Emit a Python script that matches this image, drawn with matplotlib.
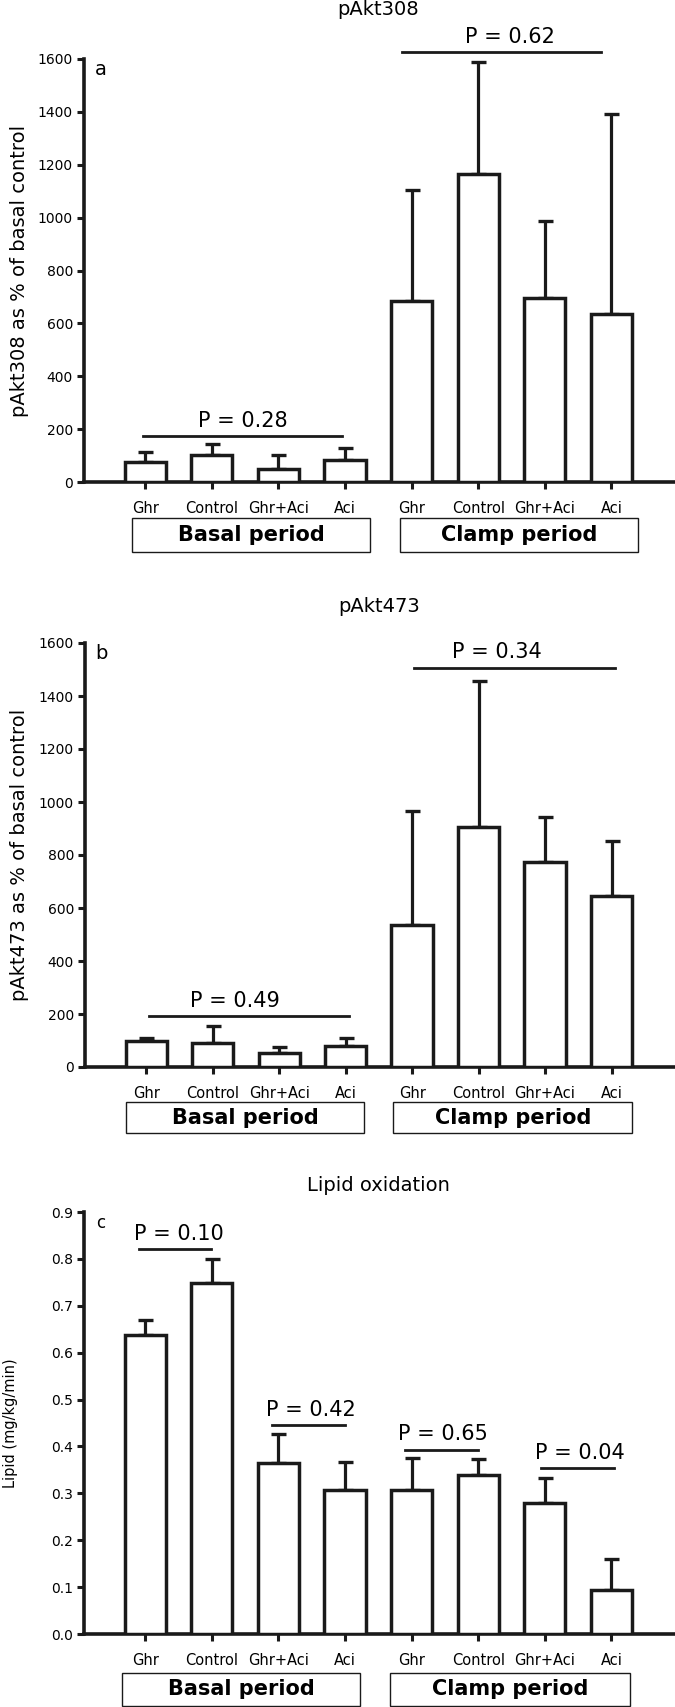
import matplotlib
matplotlib.use("Agg")
import matplotlib.pyplot as plt
from matplotlib.patches import Rectangle
import matplotlib.transforms as mtransforms

plt.rcParams['font.family'] = ['DejaVu Sans']

categories = ["Ghr", "Control", "Ghr+Aci", "Aci", "Ghr", "Control", "Ghr+Aci", "Aci"]
periods = ["Basal period", "Clamp period"]

# panel a: pAkt308 (% of basal control)
a_mean = [77, 101, 50, 85, 686, 1165, 697, 636]
a_sem = [38, 41, 54, 44, 417, 424, 291, 755]
a_p_labels = ["P = 0.28", "P = 0.62"]
a_p_left = [-0.04, 3.85]
a_p_right = [2.95, 6.85]
a_p_level = [173, 1627]
a_p_textx = [1.47, 5.48]

# panel b: pAkt473 (% of basal control)
b_mean = [99, 92, 51, 78, 534, 907, 774, 645]
b_sem = [9, 61, 23, 33, 431, 548, 169, 207]
b_p_labels = ["P = 0.49", "P = 0.34"]
b_p_left = [0.045, 4.03]
b_p_right = [3.05, 7.05]
b_p_level = [193, 1507]
b_p_textx = [1.34, 5.28]

# panel c: lipid oxidation (mg/kg/min)
c_mean = [0.637, 0.749, 0.365, 0.307, 0.308, 0.339, 0.280, 0.094]
c_sem = [0.033, 0.051, 0.062, 0.059, 0.067, 0.035, 0.053, 0.066]
c_p_labels = ["P = 0.10", "P = 0.42", "P = 0.65", "P = 0.04"]
c_p_left = [-0.10, 1.90, 3.90, 5.95]
c_p_right = [0.98, 3.00, 5.00, 7.04]
c_p_level = [0.821, 0.445, 0.393, 0.353]
c_p_textx = [0.50, 2.48, 4.47, 6.52]

W, H = 675, 1707
fig = plt.figure(figsize=(W / 100, H / 100), dpi=100)


def make_axes(left_px, top_px, bottom_px):
    return fig.add_axes([left_px / W, 1 - bottom_px / H,
                         (W - 1 - left_px) / W, (bottom_px - top_px) / H])


def draw_panel(ax, mean, sem, ymax, yticks, yticklabels, title, title_y, letter,
               letter_size, ylabel, ylabel_size, ylabel_x,
               p_labels, p_left, p_right, p_level, p_textx,
               box_x, box_y0, box_y1):
    x = list(range(len(mean)))
    ax.errorbar(x, mean, yerr=[[0] * len(sem), sem], fmt='none', ecolor='#1a1a1a',
                elinewidth=2.3, capsize=5.4, capthick=2.4, zorder=2)
    ax.bar(x, mean, width=0.62, color='white', edgecolor='#1a1a1a', linewidth=2.5, zorder=3)
    ax.set_xlim(-0.92, 7.94)
    ax.set_ylim(0, ymax)
    for s in ['top', 'right']:
        ax.spines[s].set_visible(False)
    for s in ['left', 'bottom']:
        ax.spines[s].set_linewidth(2.6)
        ax.spines[s].set_color('#1a1a1a')
    ax.set_yticks(yticks)
    ax.set_yticklabels(yticklabels, fontsize=10)
    ax.set_xticks(x)
    ax.set_xticklabels(categories, fontsize=10.5)
    ax.tick_params(axis='y', direction='out', length=5, width=2.2, pad=3, color='#1a1a1a')
    ax.tick_params(axis='x', direction='out', length=5, width=2.2, pad=9, color='#1a1a1a')
    ax.set_ylabel(ylabel, fontsize=ylabel_size)
    ax.yaxis.set_label_coords(ylabel_x, 0.5)
    ax.text(3.5, title_y, title, transform=mtransforms.blended_transform_factory(ax.transData, ax.transAxes),
            ha='center', va='center', fontsize=14)
    ax.text(-0.67, 0.975, letter, transform=mtransforms.blended_transform_factory(ax.transData, ax.transAxes),
            ha='center', va='center', fontsize=letter_size)
    for lab, x0, x1, lv, tx in zip(p_labels, p_left, p_right, p_level, p_textx):
        ax.plot([x0, x1], [lv, lv], color='#1a1a1a', lw=2.0, clip_on=False, zorder=4)
        ax.annotate(lab, xy=(tx, lv), xytext=(0, 11), textcoords='offset points',
                    ha='center', va='center', fontsize=15, annotation_clip=False)
    tr = mtransforms.blended_transform_factory(ax.transData, ax.transAxes)
    for (bx0, bx1), name in zip(box_x, periods):
        ax.add_patch(Rectangle((bx0, box_y1), bx1 - bx0, box_y0 - box_y1, transform=tr,
                               fill=False, edgecolor='#1a1a1a', linewidth=1.0, clip_on=False))
        ax.text((bx0 + bx1) / 2, (box_y0 + box_y1) / 2, name, transform=tr, ha='center',
                va='center', fontsize=15, fontweight='bold')


ax_a = make_axes(84, 59, 482)
draw_panel(ax_a, a_mean, a_sem, 1600, [0, 200, 400, 600, 800, 1000, 1200, 1400, 1600],
           ["0", "200", "400", "600", "800", "1000", "1200", "1400", "1600"],
           "pAkt308", 1.116, "a", 14, "pAkt308 as % of basal control", 14, -0.093,
           a_p_labels, a_p_left, a_p_right, a_p_level, a_p_textx,
           [(-0.20, 3.38), (3.83, 7.40)], -0.085, -0.165)

ax_b = make_axes(85, 643, 1067)
draw_panel(ax_b, b_mean, b_sem, 1600, [0, 200, 400, 600, 800, 1000, 1200, 1400, 1600],
           ["0", "200", "400", "600", "800", "1000", "1200", "1400", "1600"],
           "pAkt473", 1.085, "b", 14, "pAkt473 as % of basal control", 14, -0.095,
           b_p_labels, b_p_left, b_p_right, b_p_level, b_p_textx,
           [(-0.31, 3.28), (3.72, 7.31)], -0.083, -0.156)

ax_c = make_axes(84, 1212, 1634)
draw_panel(ax_c, c_mean, c_sem, 0.9, [0.0, 0.1, 0.2, 0.3, 0.4, 0.5, 0.6, 0.7, 0.8, 0.9],
           ["0.0", "0.1", "0.2", "0.3", "0.4", "0.5", "0.6", "0.7", "0.8", "0.9"],
           "Lipid oxidation", 1.062, "c", 12, "Lipid (mg/kg/min)", 10.5, -0.112,
           c_p_labels, c_p_left, c_p_right, c_p_level, c_p_textx,
           [(-0.35, 3.23), (3.68, 7.28)], -0.092, -0.171)

fig.savefig("out.png", dpi=100)
